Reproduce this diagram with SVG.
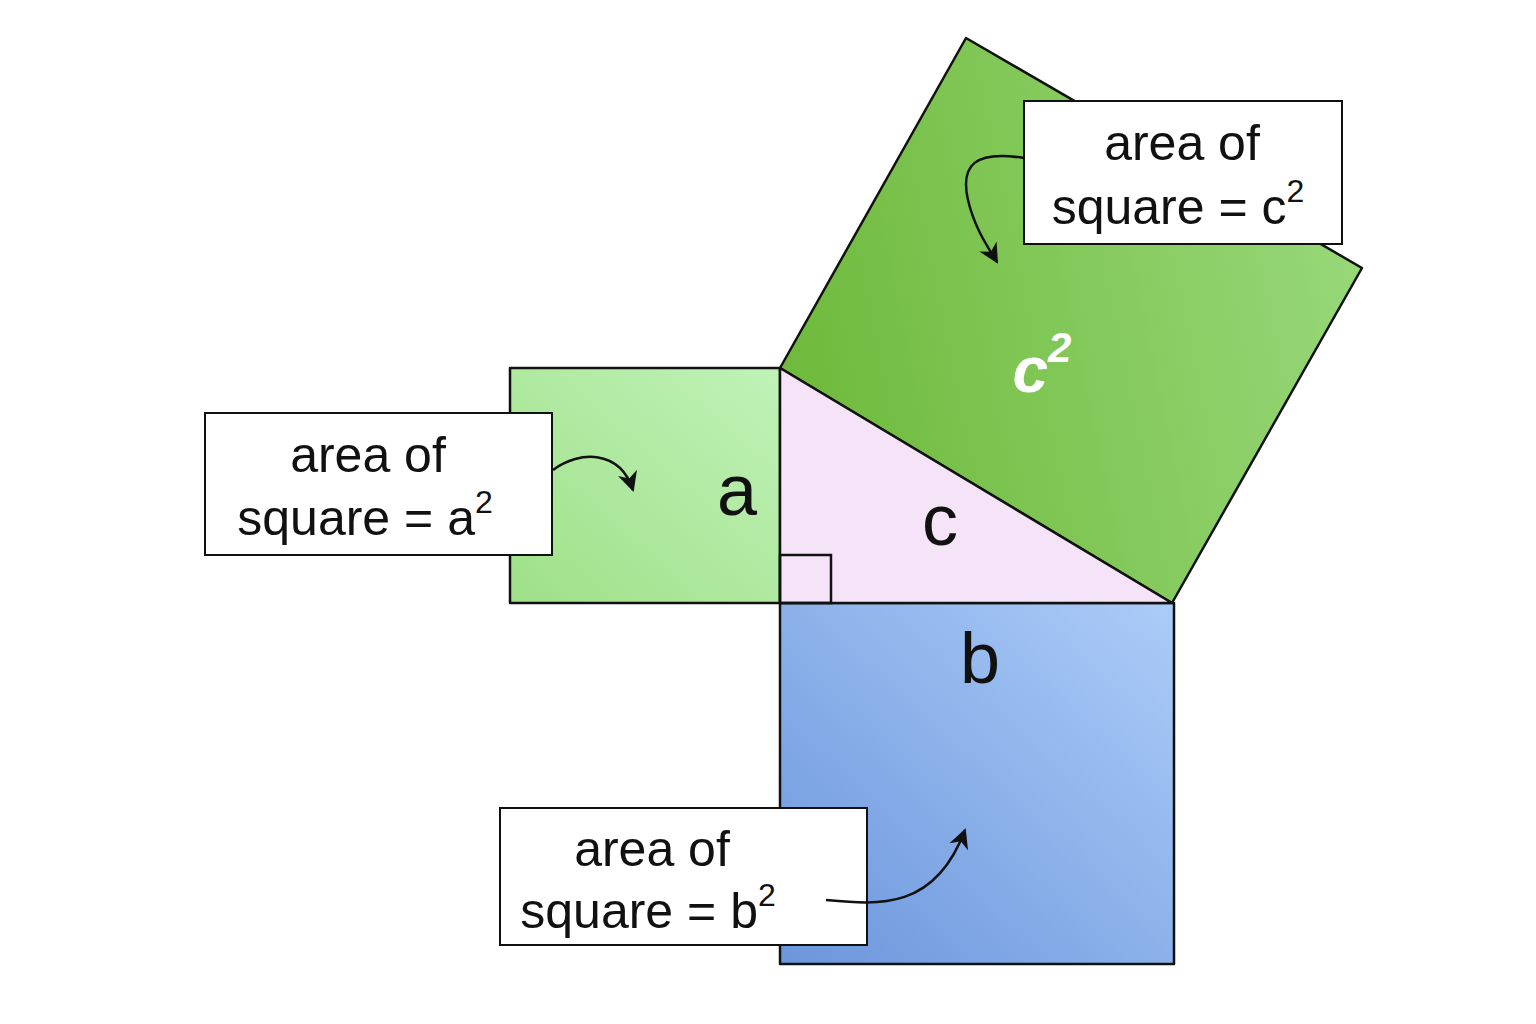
<svg xmlns="http://www.w3.org/2000/svg" width="1536" height="1024" viewBox="0 0 1536 1024">
<style>
.lbl{font-family:"Liberation Sans",Arial,sans-serif;font-size:50px;fill:#111;text-anchor:middle}
.box{fill:#fff;stroke:#111;stroke-width:2}
.sq{stroke:#111;stroke-width:2.5;stroke-linejoin:round}
.big{font-family:"Liberation Sans",Arial,sans-serif;font-size:72px;fill:#111;text-anchor:middle}
.con{fill:none;stroke:#111;stroke-width:2.5}
</style>
<defs>
<linearGradient id="ga" x1="1" y1="0" x2="0" y2="1"><stop offset="0" stop-color="#c0f2b8"/><stop offset="1" stop-color="#9fe088"/></linearGradient>
<linearGradient id="gc" x1="0" y1="0.5" x2="1" y2="0.3"><stop offset="0" stop-color="#6fba3c"/><stop offset="1" stop-color="#98d87a"/></linearGradient>
<linearGradient id="gb" x1="1" y1="0" x2="0" y2="1"><stop offset="0" stop-color="#acccf8"/><stop offset="1" stop-color="#6c96dc"/></linearGradient>
<marker id="ar" viewBox="0 0 10 10" refX="9" refY="5" markerWidth="8" markerHeight="8" orient="auto-start-reverse"><path d="M0,0 L10,5 L0,10 L3,5 Z" fill="#111"/></marker>
</defs>
<g id="square-a"><rect class="sq" x="510" y="368" width="270" height="235" fill="url(#ga)"/><text class="big" x="737" y="515">a</text></g>
<g id="square-c"><polygon class="sq" points="780,368 966,38 1362,268 1172,603" fill="url(#gc)"/><text x="1042" y="392" font-family="Liberation Sans,Arial,sans-serif" font-size="64" font-weight="bold" font-style="italic" fill="#fff" text-anchor="middle">c<tspan dy="-30" font-size="42">2</tspan></text></g>
<g id="square-b"><rect class="sq" x="780" y="603" width="394" height="361" fill="url(#gb)"/><text class="big" x="980" y="683">b</text></g>
<g id="triangle"><polygon class="sq" points="780,368 780,603 1172,603" fill="#f5e4f7"/><rect x="780" y="555" width="51" height="48" fill="none" stroke="#111" stroke-width="2.5"/><text class="big" x="940" y="545">c</text></g>
<g id="box-c"><rect class="box" x="1024" y="101" width="318" height="143"/><text class="lbl" x="1182" y="160">area of</text><text class="lbl" x="1178" y="224">square = c<tspan dy="-22" font-size="32">2</tspan></text></g>
<g id="box-a"><rect class="box" x="205" y="413" width="347" height="142"/><text class="lbl" x="368" y="472">area of</text><text class="lbl" x="365" y="535">square = a<tspan dy="-22" font-size="32">2</tspan></text></g>
<g id="box-b"><rect class="box" x="500" y="808" width="367" height="137"/><text class="lbl" x="652" y="866">area of</text><text class="lbl" x="648" y="928">square = b<tspan dy="-22" font-size="32">2</tspan></text></g>
<g id="connectors">
<path class="con" d="M553,470 C580,450 620,450 633,490" marker-end="url(#ar)"/>
<path class="con" d="M1024,158 C975,150 960,165 968,200 C975,230 990,250 997,262" marker-end="url(#ar)"/>
<path class="con" d="M826,900 C880,905 935,910 965,830" marker-end="url(#ar)"/>
</g>
</svg>
